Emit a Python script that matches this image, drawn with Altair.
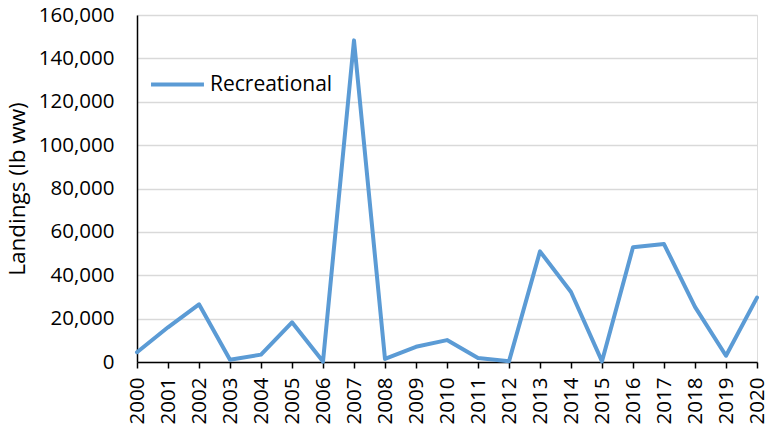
import altair as alt
import pandas as pd

years = [str(y) for y in range(2000, 2021)]
landings = [4500, 16000, 26600, 1000, 3400, 18300, 200, 148300, 1400, 7000,
            10100, 1800, 300, 51000, 32300, 300, 52900, 54400, 25400, 2900, 29700]
series = ["Recreational"] * len(years)

df = pd.DataFrame({"Year": years, "Landings": landings, "Series": series})

FONT = "Open Sans"

chart = alt.Chart(df).mark_line(
    strokeWidth=4, strokeJoin="round", strokeCap="round"
).encode(
    x=alt.X("Year:O", scale=alt.Scale(type="point", padding=0),
            axis=alt.Axis(title=None, labelAngle=-90, labelAlign="right",
                          labelBaseline="middle", tickSize=6, tickColor="#000000",
                          tickWidth=1.5, labelPadding=9, domainColor="#000000",
                          domainWidth=1.5, labelFontSize=20.5, labelFont=FONT,
                          labelColor="#000000", grid=False)),
    y=alt.Y("Landings:Q", scale=alt.Scale(domain=[0, 160000], nice=False),
            axis=alt.Axis(title="Landings (lb ww)", values=list(range(0, 160001, 20000)),
                          format=",.0f", ticks=False, labelPadding=23,
                          domainColor="#000000", domainWidth=1.5,
                          gridColor="#D9D9D9", gridWidth=1.5,
                          labelFontSize=20.5, labelFont=FONT, labelColor="#000000",
                          titleFontSize=22.5, titleFont=FONT, titleFontWeight="normal",
                          titleColor="#000000", titlePadding=9)),
    color=alt.Color("Series:N", scale=alt.Scale(range=["#5B9BD5"]),
                    legend=alt.Legend(title=None, orient="none", legendX=12, legendY=41,
                                      symbolType="stroke", symbolSize=2800,
                                      symbolStrokeWidth=4, labelFontSize=21,
                                      labelFont=FONT, labelColor="#000000",
                                      labelOffset=4))
).properties(
    width=620, height=347,
    autosize=alt.AutoSizeParams(type="none"),
    padding={"left": 137, "top": 15, "right": 20, "bottom": 68}
).configure_view(stroke=None).configure(background="white")

chart.save("out.html", embed_options={"renderer": "svg", "actions": False})
